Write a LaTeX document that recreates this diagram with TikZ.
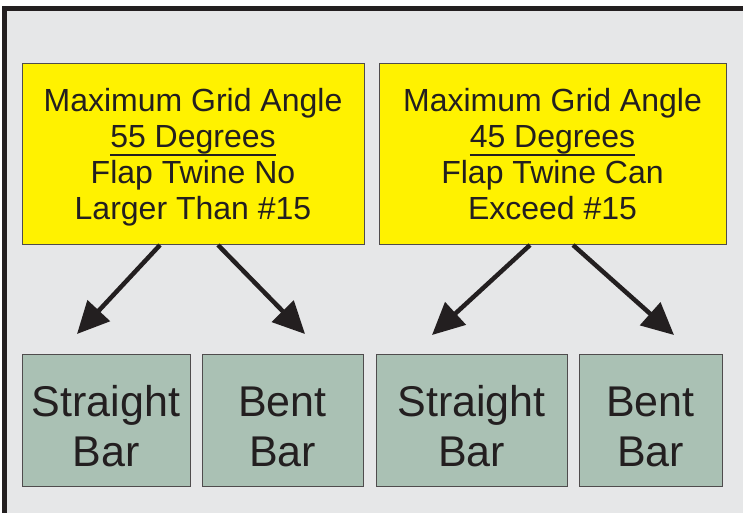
\documentclass[tikz,border=0pt]{standalone}
\usepackage{fontspec}
\setmainfont{Liberation Sans}
\usepackage{xcolor}
\usepackage{tikz}
\usetikzlibrary{arrows.meta}
\usetikzlibrary{shapes}

\definecolor{framegray}{HTML}{E6E7E8}
\definecolor{gridyellow}{HTML}{FFF200}
\definecolor{bargreen}{HTML}{AAC1B4}
\definecolor{inkblack}{HTML}{231F20}

% underline set close under the descenders
\newcommand{\degline}[1]{\leavevmode\vtop{\hbox{#1}\hrule height 2pt}}
% extra room above the first line of a bar box
\newcommand{\barstrut}{\rule{0pt}{43pt}}

\tikzset{
    ybox/.style = {draw = inkblack!80, line width = 1pt, fill = gridyellow,
        text = inkblack, align = center, inner sep = 0pt,
        minimum height = 181pt, font = \fontsize{32}{36}\selectfont},
    gbox/.style = {draw = inkblack!80, line width = 1pt, fill = bargreen,
        text = inkblack, align = center, inner sep = 0pt,
        minimum height = 132pt, font = \fontsize{43}{50}\selectfont},
    arr/.style = {draw = inkblack, line width = 4.5pt,
        -{Triangle[length = 32pt, width = 30pt]}}
}

\begin{document}
\begin{tikzpicture}[x = 1pt, y = -1pt]
        \useasboundingbox (0, 0) rectangle (743, 513);
        \fill[white] (0, 0) rectangle (743, 513);
        \draw[line width = 5pt, draw = inkblack, fill = framegray] (4.5, 8.5) rectangle (780, 560);

        % grid angle boxes
        \node[ybox, minimum width = 342pt] (max55) at (193, 154)
            {Maximum Grid Angle\\ \degline{55 Degrees}\\ Flap Twine No\\ \smash{Larger Than \#15}};
        \node[ybox, minimum width = 347pt] (max45) at (552.5, 154)
            {Maximum Grid Angle\\ \degline{45 Degrees}\\ Flap Twine Can\\ Exceed \#15};

        % bar boxes
        \node[gbox, minimum width = 168pt] (straight55) at (106, 420.5) {\barstrut Straight\\ Bar};
        \node[gbox, minimum width = 161pt] (bent55) at (282.5, 420.5) {\barstrut Bent\\ Bar};
        \node[gbox, minimum width = 191pt] (straight45) at (471.5, 420.5) {\barstrut Straight\\ Bar};
        \node[gbox, minimum width = 143pt] (bent45) at (650.5, 420.5) {\barstrut Bent\\ Bar};

        % arrow tips
        \coordinate (tipS55) at (77, 334);
        \coordinate (tipB55) at (305, 334);
        \coordinate (tipS45) at (432, 335);
        \coordinate (tipB45) at (674, 335);

        \draw[arr] ([xshift = -33pt]max55.south) -- (tipS55);
        \draw[arr] ([xshift = 25pt]max55.south) -- (tipB55);
        \draw[arr] ([xshift = -22.5pt]max45.south) -- (tipS45);
        \draw[arr] ([xshift = 20.5pt]max45.south) -- (tipB45);
    \end{tikzpicture}
\end{document}
